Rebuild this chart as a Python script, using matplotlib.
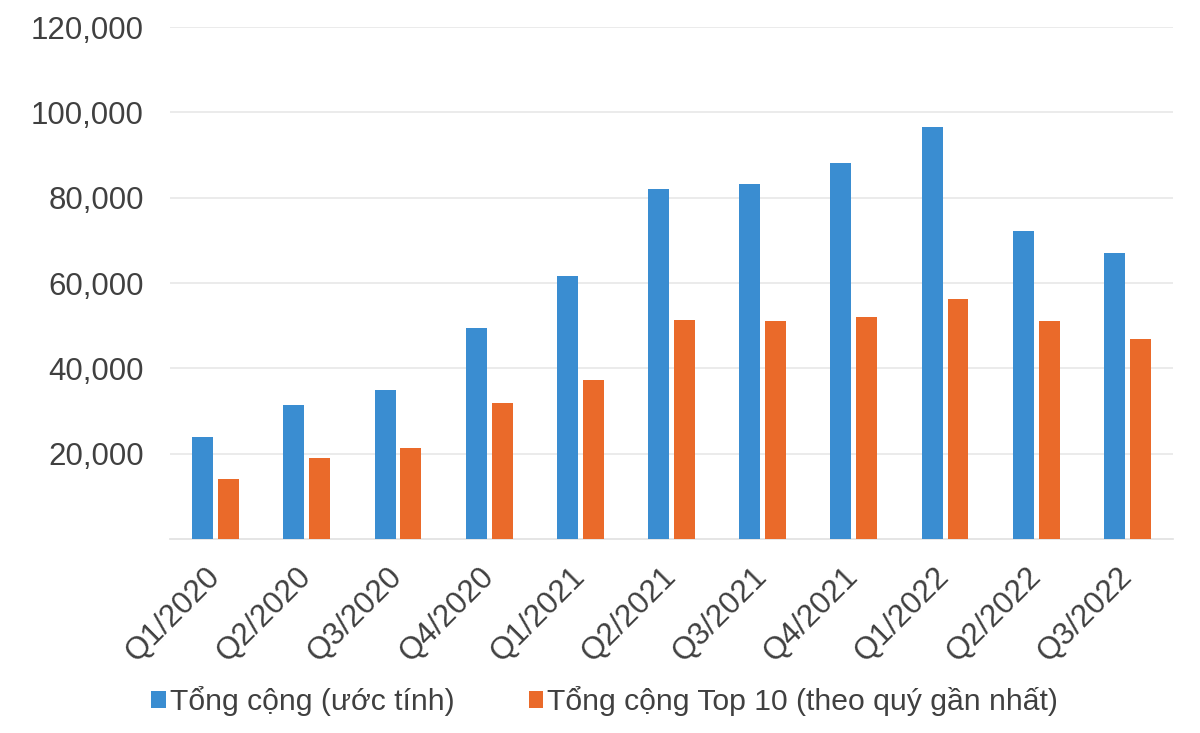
import matplotlib
matplotlib.use("Agg")
import matplotlib.pyplot as plt
import numpy as np
from matplotlib.patches import Patch
from matplotlib.ticker import FuncFormatter

categories = ["Q1/2020", "Q2/2020", "Q3/2020", "Q4/2020", "Q1/2021", "Q2/2021",
              "Q3/2021", "Q4/2021", "Q1/2022", "Q2/2022", "Q3/2022"]
total = [23800, 31400, 34900, 49400, 61600, 82000, 83200, 88100, 96600, 72200, 67000]
top10 = [14100, 19000, 21300, 31900, 37300, 51300, 51100, 52000, 56200, 51100, 46900]
series_names = ["Tổng cộng (ước tính)", "Tổng cộng Top 10 (theo quý gần nhất)"]
yticks = [20000, 40000, 60000, 80000, 100000, 120000]

blue = "#3A8DD1"
orange = "#EA6A2A"
text_color = "#404040"

plt.rcParams['font.family'] = ['Liberation Sans', 'DejaVu Sans']

fig = plt.figure(figsize=(12, 7.33), dpi=100)
ax = fig.add_axes([0.1417, 0.2647, 0.8358, 0.6983])

x = np.arange(len(categories))
w = 0.23
off = 0.142
ax.bar(x - off, total, width=w, color=blue, zorder=3)
ax.bar(x + off, top10, width=w, color=orange, zorder=3)

ax.set_xlim(-0.5, len(categories) - 0.5)
ax.set_ylim(0, 120000)
ax.set_yticks(yticks)
ax.yaxis.set_major_formatter(FuncFormatter(lambda v, p: f"{int(v):,}"))
ax.grid(axis='y', color='#e8e8e8', linewidth=1.2, zorder=0)
for s in ['top', 'right', 'left']:
    ax.spines[s].set_visible(False)
ax.spines['bottom'].set_color('#e0e0e0')
ax.spines['bottom'].set_linewidth(1.2)
ax.tick_params(axis='both', length=0, labelsize=22.5, colors=text_color)
ax.tick_params(axis='y', pad=19)

ax.set_xticks(x)
ax.set_xticklabels(categories, rotation=45, ha='right', va='center',
                   rotation_mode='anchor', fontsize=22.5, color=text_color)
ax.tick_params(axis='x', pad=24)

handles = [Patch(facecolor=blue), Patch(facecolor=orange)]
fig.legend(handles, series_names, loc='center', bbox_to_anchor=(0.504, 0.043),
           ncol=2, frameon=False, fontsize=21.7, handlelength=0.47, handleheight=0.47,
           handletextpad=0.15, columnspacing=2.45, labelcolor=text_color)

fig.savefig("out.png", dpi=100)
